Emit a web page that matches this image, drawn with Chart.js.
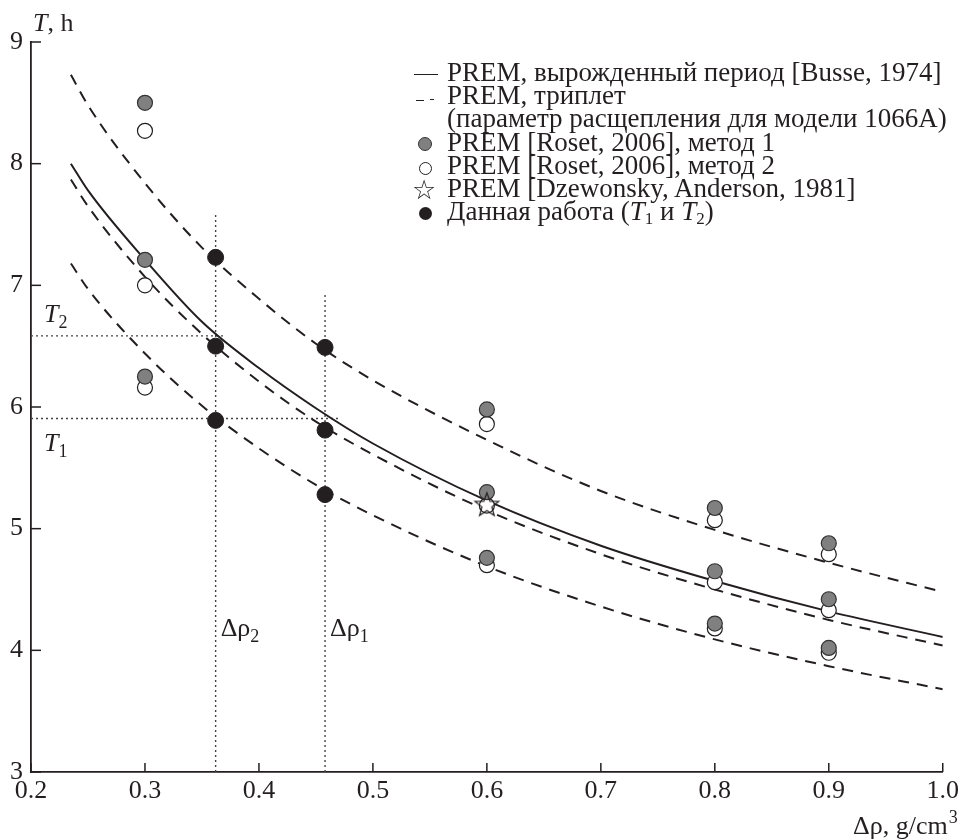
<!DOCTYPE html>
<html>
<head>
<meta charset="utf-8">
<script src="https://cdn.jsdelivr.net/npm/chart.js@4"></script>
<style>
  body { margin: 0; background: #fff; }
  #wrap { position: relative; width: 963px; height: 840px; }
  #legend { position: absolute; left: 413px; top: 61px; font-family: "Liberation Serif", serif; font-size: 27px; line-height: 23.2px; color: #231f20; }
  .row { position: relative; height: 23.2px; white-space: nowrap; }
  .row .txt { position: absolute; left: 34px; top: 0; }
  .mk { position: absolute; box-sizing: border-box; }
  .sub { font-size: 17px; vertical-align: -4px; }
</style>
</head>
<body>
<div id="wrap">
  <canvas id="chart" width="963" height="840"></canvas>
  <div id="legend">
    <div class="row"><span class="mk" style="left:1px;top:13px;width:24px;height:0;border-top:1.6px solid #231f20"></span><span class="txt">PREM, вырожденный период [Busse, 1974]</span></div>
    <div class="row"><span class="mk" style="left:3px;top:16px;width:8px;height:0;border-top:1.5px solid #231f20"></span><span class="mk" style="left:17px;top:15px;width:4px;height:0;border-top:1.5px solid #231f20"></span><span class="txt">PREM, триплет</span></div>
    <div class="row"><span class="txt">(параметр расщепления для модели 1066A)</span></div>
    <div class="row"><span class="mk" style="left:5px;top:6px;width:14px;height:14px;border-radius:50%;background:#808080;border:1.2px solid #333"></span><span class="txt">PREM [Roset, 2006], метод 1</span></div>
    <div class="row"><span class="mk" style="left:6px;top:8px;width:13px;height:13px;border-radius:50%;background:#fff;border:1.2px solid #231f20"></span><span class="txt">PREM [Roset, 2006], метод 2</span></div>
    <div class="row"><span class="mk" style="left:-1px;top:-1px;font-family:'DejaVu Sans';font-size:27px;line-height:27px">☆</span><span class="txt">PREM [Dzewonsky, Anderson, 1981]</span></div>
    <div class="row"><span class="mk" style="left:6px;top:7px;width:13px;height:13px;border-radius:50%;background:#231f20"></span><span class="txt">Данная работа (<i>T</i><span class="sub">1</span> и <i>T</i><span class="sub">2</span>)</span></div>
  </div>
</div>
<script>
// Curves: at fixed density values
const curveX = [0.235, 0.25, 0.3, 0.35, 0.4, 0.45, 0.5, 0.6, 0.7, 0.8, 0.9, 1.0];
const degenerateT = [8.00, 7.78, 7.21, 6.70, 6.32, 5.99, 5.70, 5.23, 4.86, 4.57, 4.32, 4.11];
const tripletUpperT = [8.73, 8.48, 7.84, 7.31, 6.89, 6.52, 6.22, 5.73, 5.31, 4.99, 4.72, 4.48];
const tripletMiddleT = [7.87, 7.65, 7.07, 6.60, 6.21, 5.88, 5.61, 5.15, 4.79, 4.50, 4.25, 4.04];
const tripletLowerT = [7.18, 6.97, 6.44, 6.01, 5.66, 5.36, 5.11, 4.69, 4.36, 4.09, 3.87, 3.68];

// Roset 2006 points
const rosetX = [0.3, 0.3, 0.3, 0.6, 0.6, 0.6, 0.8, 0.8, 0.8, 0.9, 0.9, 0.9];
const rosetMethod1 = [8.50, 7.21, 6.25, 5.98, 5.30, 4.76, 5.17, 4.65, 4.22, 4.88, 4.42, 4.02];
const rosetMethod2 = [8.27, 7.00, 6.16, 5.86, 5.19, 4.70, 5.07, 4.56, 4.18, 4.79, 4.33, 3.98];

// Dziewonski & Anderson 1981
const premX = [0.6];
const premT = [5.20];

// This work
const workX = [0.362, 0.362, 0.362, 0.458, 0.458, 0.458];
const workT = [7.23, 6.50, 5.89, 6.49, 5.81, 5.28];

// Dotted guide lines
const rho2 = 0.362, rho1 = 0.458;
const rho2Top = 7.60, rho1Top = 6.93;
const T2 = 6.585, T1 = 5.905;
const T2End = 0.37, T1End = 0.471;

const xTicks = [0.2, 0.3, 0.4, 0.5, 0.6, 0.7, 0.8, 0.9, 1.0];
const yTicks = [3, 4, 5, 6, 7, 8, 9];

const INK = '#231f20';
const SERIF = '"Liberation Serif", serif';

function pts(xs, ys) {
    return xs.map((x, i) => ({ x: x, y: ys[i] }));
}

// Star marker (outline)
function makeStar() {
    const c = document.createElement('canvas');
    c.width = 28; c.height = 28;
    const g = c.getContext('2d');
    g.beginPath();
    for (let i = 0; i < 10; i++) {
        const r = i % 2 === 0 ? 12.5 : 5.2;
        const a = -Math.PI / 2 + i * Math.PI / 5;
        const px = 14 + r * Math.cos(a), py = 15 + r * Math.sin(a);
        if (i === 0) g.moveTo(px, py); else g.lineTo(px, py);
    }
    g.closePath();
    g.strokeStyle = INK;
    g.lineWidth = 1.2;
    g.stroke();
    return c;
}

const curveStyle = { type: 'line', pointRadius: 0, borderColor: INK, borderWidth: 2, fill: false, cubicInterpolationMode: 'monotone' };
const guideStyle = { type: 'line', pointRadius: 0, borderColor: '#444', borderWidth: 1.4, borderDash: [2, 3], fill: false, tension: 0 };

// Inward ticks, inline labels and axis titles
const annotations = {
    id: 'annotations',
    afterDraw(chart) {
        const { ctx, chartArea, scales: { x, y } } = chart;
        ctx.save();
        ctx.strokeStyle = INK;
        ctx.lineWidth = 1.5;
        xTicks.forEach(v => {
            const px = x.getPixelForValue(v);
            ctx.beginPath(); ctx.moveTo(px, chartArea.bottom); ctx.lineTo(px, chartArea.bottom - 9); ctx.stroke();
        });
        yTicks.forEach(v => {
            const py = y.getPixelForValue(v);
            ctx.beginPath(); ctx.moveTo(chartArea.left, py); ctx.lineTo(chartArea.left + 10, py); ctx.stroke();
        });

        ctx.fillStyle = INK;
        ctx.textBaseline = 'alphabetic';
        ctx.textAlign = 'left';

        function sym(main, sub, px, py, italic) {
            ctx.font = (italic ? 'italic ' : '') + '26px ' + SERIF;
            ctx.fillText(main, px, py);
            const w = ctx.measureText(main).width;
            ctx.font = '18px ' + SERIF;
            ctx.fillText(sub, px + w, py + 6);
        }
        // T2 / T1 labels
        sym('T', '2', chartArea.left + 13, y.getPixelForValue(T2) - 14, true);
        sym('T', '1', chartArea.left + 13, y.getPixelForValue(T1) + 32, true);
        // Δρ labels
        sym('Δρ', '2', x.getPixelForValue(rho2) + 5, y.getPixelForValue(4.12), false);
        sym('Δρ', '1', x.getPixelForValue(rho1) + 5, y.getPixelForValue(4.12), false);

        // y title "T, h"
        ctx.font = 'italic 26px ' + SERIF;
        ctx.fillText('T', chartArea.left + 2, chartArea.top - 11);
        const tw = ctx.measureText('T').width;
        ctx.font = '26px ' + SERIF;
        ctx.fillText(', h', chartArea.left + 2 + tw, chartArea.top - 11);

        // x title
        ctx.textAlign = 'right';
        ctx.font = '26px ' + SERIF;
        ctx.fillText('Δρ, g/cm', chartArea.right + 5, chartArea.bottom + 62);
        ctx.textAlign = 'left';
        ctx.font = '18px ' + SERIF;
        ctx.fillText('3', chartArea.right + 6, chartArea.bottom + 51);
        ctx.restore();
    }
};

new Chart(document.getElementById('chart'), {
    type: 'scatter',
    data: {
        datasets: [
            { label: 'Данная работа', data: pts(workX, workT), pointRadius: 8, pointBackgroundColor: INK, pointBorderColor: INK, pointBorderWidth: 1 },
            { label: 'PREM [Dzewonsky, Anderson, 1981]', data: pts(premX, premT), pointStyle: makeStar() },
            { label: 'метод 1', data: pts(rosetX, rosetMethod1), pointRadius: 7.5, pointBackgroundColor: '#808080', pointBorderColor: '#333', pointBorderWidth: 1.2 },
            { label: 'метод 2', data: pts(rosetX, rosetMethod2), pointRadius: 7.5, pointBackgroundColor: '#fff', pointBorderColor: INK, pointBorderWidth: 1.2 },
            Object.assign({ label: 'вырожденный период', data: pts(curveX, degenerateT) }, curveStyle),
            Object.assign({ label: 'триплет 1', data: pts(curveX, tripletUpperT), borderDash: [11, 8] }, curveStyle),
            Object.assign({ label: 'триплет 2', data: pts(curveX, tripletMiddleT), borderDash: [11, 8] }, curveStyle),
            Object.assign({ label: 'триплет 3', data: pts(curveX, tripletLowerT), borderDash: [11, 8] }, curveStyle),
            Object.assign({ label: 'T2', data: [{ x: 0.2, y: T2 }, { x: T2End, y: T2 }] }, guideStyle),
            Object.assign({ label: 'T1', data: [{ x: 0.2, y: T1 }, { x: T1End, y: T1 }] }, guideStyle),
            Object.assign({ label: 'rho2', data: [{ x: rho2, y: 3 }, { x: rho2, y: rho2Top }] }, guideStyle),
            Object.assign({ label: 'rho1', data: [{ x: rho1, y: 3 }, { x: rho1, y: rho1Top }] }, guideStyle)
        ]
    },
    options: {
        responsive: false,
        animation: false,
        layout: { padding: { top: 42, right: 18, left: 0, bottom: 0 } },
        plugins: { legend: { display: false }, tooltip: { enabled: false } },
        scales: {
            x: {
                type: 'linear', min: 0.2, max: 1.0,
                afterFit: s => { s.height = 68; },
                afterBuildTicks: s => { s.ticks = xTicks.map(v => ({ value: v })); },
                grid: { display: false, drawTicks: false },
                border: { display: true, color: INK, width: 1.8 },
                ticks: { padding: 4, color: INK, font: { family: SERIF, size: 26 }, callback: v => v.toFixed(1) }
            },
            y: {
                type: 'linear', min: 3, max: 9,
                afterFit: s => { s.width = 31; },
                afterBuildTicks: s => { s.ticks = yTicks.map(v => ({ value: v })); },
                grid: { display: false, drawTicks: false },
                border: { display: true, color: INK, width: 1.8 },
                ticks: { padding: 8, color: INK, font: { family: SERIF, size: 26 } }
            }
        }
    },
    plugins: [annotations]
});
</script>
</body>
</html>
